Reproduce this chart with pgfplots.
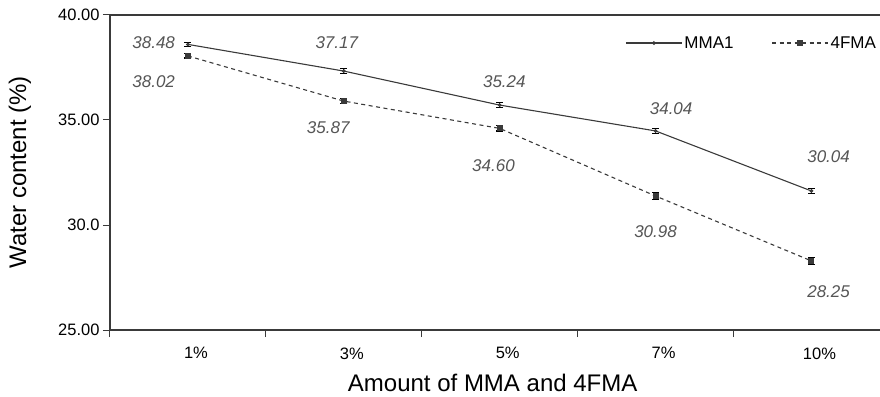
\documentclass[border=0pt]{standalone}
\usepackage{pgfplots}
\pgfplotsset{compat=1.18}
\usepackage{fontspec}
\setmainfont{Liberation Sans}
\definecolor{ln}{HTML}{3A3A3A}
\definecolor{lbl}{HTML}{555555}
\begin{document}
\begin{tikzpicture}
\begin{axis}[
  name=ax,
  scale only axis,
  width=770pt, height=315pt,
  xmin=-0.5, xmax=4.44,
  ymin=25, ymax=40,
  axis lines*=left,
  axis line style={ln, line width=1.2pt},
  tick align=outside,
  major tick length=7pt,
  tick style={ln, line width=1pt},
  xtick={-0.5,0.5,1.5,2.5,3.5},
  xticklabels={},
  extra x ticks={0,1,2,3,4},
  extra x tick labels={1\%,3\%,5\%,7\%,10\%},
  extra x tick style={major tick length=0pt, xticklabel style={yshift=-14pt, xshift=8pt}},
  ytick={25,30,35,40},
  yticklabels={25.00,30.0,35.00,40.00},
  ticklabel style={font=\fontsize{16.5}{18}\selectfont},
  /pgf/number format/assume math mode=true,
  xlabel={Amount of MMA and 4FMA},
  ylabel={Water content (\%)},
  every axis x label/.style={at={(axis description cs:0.497,-0.168)}, anchor=center, font=\fontsize{24}{26}\selectfont},
  every axis y label/.style={at={(axis description cs:-0.117,0.5)}, anchor=center, rotate=90, font=\fontsize{24}{26}\selectfont},
  clip=false,
  legend columns=2,
  legend style={draw=none, fill=none, at={(rel axis cs:0.669,0.911)}, anchor=west, inner sep=0pt,
    font=\fontsize{17}{18}\selectfont,
    nodes={inner sep=2pt},
    /tikz/every odd column/.append style={column sep=0pt},
    /tikz/every even column/.append style={column sep=36pt}},
  legend image code/.code={\draw[mark repeat=2,mark phase=2,#1] plot coordinates {(0pt,0pt) (28pt,0pt) (56pt,0pt)};},
]
\draw[ln, line width=1.2pt] (rel axis cs:0,1) -- (rel axis cs:1,1);
\addplot[ln, line width=1.1pt, mark=*, mark size=1.3pt,
  error bars/.cd, y dir=both, y explicit,
  error bar style={black, line width=1pt},
  error mark options={rotate=90, mark size=3.5pt, black, line width=1pt}]
  table[x=x, y=y, y error=e] {
x y e
0 38.60 0.10
1 37.33 0.10
2 35.71 0.12
3 34.48 0.12
4 31.62 0.10
};
\addlegendentry{MMA1}
\addplot[ln, line width=1.1pt, dash pattern=on 4pt off 3.5pt, mark=square*, mark size=2.5pt, mark options={solid, fill=ln},
  error bars/.cd, y dir=both, y explicit,
  error bar style={black, line width=1.5pt, solid},
  error mark options={rotate=90, mark size=3.5pt, black, line width=1.2pt, solid}]
  table[x=x, y=y, y error=e] {
x y e
0 38.05 0.10
1 35.90 0.12
2 34.60 0.12
3 31.38 0.18
4 28.29 0.18
};
\addlegendentry{4FMA}
\begin{scope}[every node/.style={font=\fontsize{17}{18}\selectfont\itshape, text=lbl}]
\node at (axis cs:-0.22,38.68) {38.48};
\node at (axis cs:-0.22,36.81) {38.02};
\node at (axis cs:0.955,38.68) {37.17};
\node at (axis cs:0.90,34.62) {35.87};
\node at (axis cs:2.03,36.81) {35.24};
\node at (axis cs:1.96,32.81) {34.60};
\node at (axis cs:3.10,35.52) {34.04};
\node at (axis cs:3.00,29.67) {30.98};
\node at (axis cs:4.11,33.24) {30.04};
\node at (axis cs:4.11,26.81) {28.25};
\end{scope}
\end{axis}
\pgfresetboundingbox
\path ([shift={(-110pt,-66pt)}]ax.south west) rectangle ([shift={(0pt,15pt)}]ax.north east);
\end{tikzpicture}
\end{document}
